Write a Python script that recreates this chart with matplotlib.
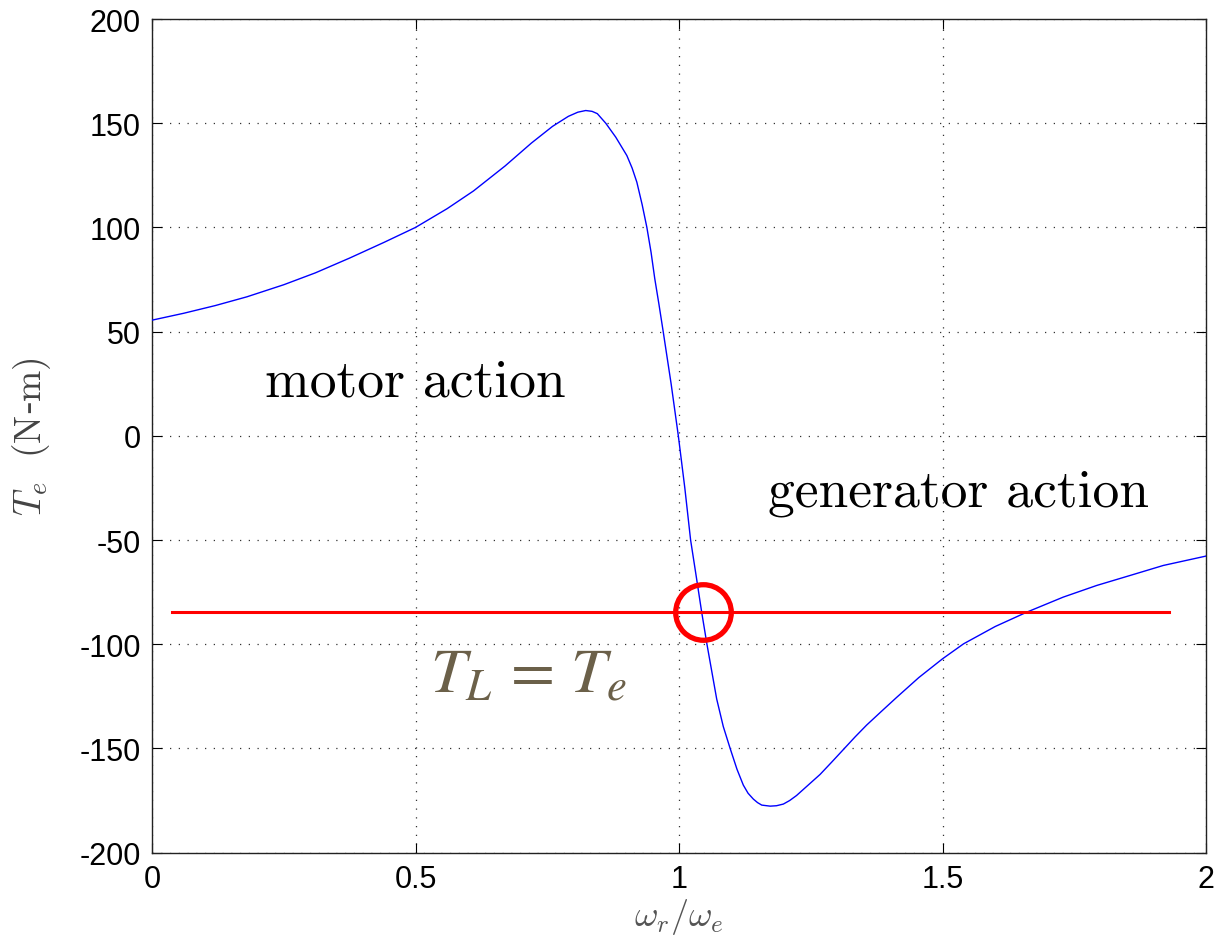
import matplotlib
matplotlib.use("Agg")
import matplotlib.pyplot as plt

# speed ratio omega_r/omega_e and electromagnetic torque (N-m)
speed = [0.0, 0.06, 0.12, 0.18, 0.25, 0.31, 0.375, 0.44, 0.5, 0.56,
         0.61, 0.67, 0.72, 0.76, 0.79, 0.808, 0.823, 0.835, 0.845, 0.861,
         0.88, 0.901, 0.911, 0.92, 0.93, 0.939, 0.947, 0.954, 0.962, 0.970,
         0.985, 0.9987, 1.011, 1.022, 1.033, 1.043, 1.053, 1.0625, 1.0715, 1.084,
         1.097, 1.11, 1.122, 1.131, 1.141, 1.149, 1.157, 1.173, 1.185, 1.198,
         1.21, 1.223, 1.2676, 1.29, 1.312, 1.334, 1.356, 1.385, 1.413, 1.455,
         1.5, 1.54, 1.6, 1.66, 1.729, 1.7926, 1.856, 1.919, 2.0]
torque = [55.5, 58.8, 62.5, 66.7, 72.5, 78.2, 85.3, 92.8, 100.0, 109.0,
          117.5, 129.5, 140.5, 148.5, 153.3, 155.3, 156.1, 155.7, 154.6, 150.0,
          143.3, 134.5, 128.5, 121.7, 111.0, 100.0, 88.0, 75.4, 63.0, 50.0,
          25.0, 0.0, -25.0, -50.0, -68.0, -84.6, -100.0, -113.5, -126.3, -139.5,
          -150.0, -160.0, -167.6, -171.5, -174.3, -176.0, -177.2, -177.7, -177.5, -176.7,
          -175.0, -172.6, -162.5, -156.5, -150.5, -144.5, -138.8, -132.0, -125.5, -116.0,
          -107.0, -99.8, -91.5, -84.6, -77.4, -71.8, -67.0, -62.2, -57.7]

load_torque = -84.6
load_x = [0.038, 1.930]
op_point_x = [1.046]
op_point_y = [-84.6]

xticks = [0, 0.5, 1, 1.5, 2]
xtick_labels = ['0', '0.5', '1', '1.5', '2']
yticks = [-200, -150, -100, -50, 0, 50, 100, 150, 200]
ytick_labels = ['-200', '-150', '-100', '-50', '0', '50', '100', '150', '200']

plt.rcParams['mathtext.fontset'] = 'cm'

fig = plt.figure(figsize=(12.16, 9.45), dpi=100)
ax = fig.add_axes([0.125, 0.0967, 0.8668, 0.8821])

ax.plot(speed, torque, color='#0000FF', lw=1.0, zorder=3)
ax.plot(load_x, [load_torque, load_torque], color='#FF0000', lw=2.2, zorder=4)
ax.plot(op_point_x, op_point_y, marker='o', ms=40, mfc='none', mec='#FF0000',
        mew=3.8, linestyle='none', zorder=5)

ax.set_xlim(0, 2)
ax.set_ylim(-200, 200)
ax.set_xticks(xticks)
ax.set_xticklabels(xtick_labels)
ax.set_yticks(yticks)
ax.set_yticklabels(ytick_labels)
for lab in ax.get_xticklabels() + ax.get_yticklabels():
    lab.set_fontfamily('Liberation Sans')
    lab.set_fontsize(22)
ax.tick_params(direction='in', length=7, width=0.8, top=True, right=True,
               pad=8, colors='black')
ax.grid(True, color='#333333', linestyle=(0, (1, 6)), linewidth=0.9)
for s in ax.spines.values():
    s.set_linewidth(1.0)
    s.set_color('#222222')

ax.set_xlabel(r'$\omega_r/\omega_e$', fontsize=26, color='#555555')
ax.xaxis.set_label_coords(0.5, -0.052)
ax.set_ylabel(r'$T_e\ \ \mathrm{(N}$-$\mathrm{m)}$', fontsize=27, color='#444444')
ax.yaxis.set_label_coords(-0.094, 0.5)

ax.text(0.214, 26, 'motor action', fontsize=38.6, family='cmr10', ha='left', va='center')
ax.text(1.169, -27, 'generator action', fontsize=38.6, family='cmr10', ha='left', va='center')
ax.text(0.527, -114, r'$T_L\,=\,T_e$', fontsize=46, color='#6B6049', ha='left', va='center',
        math_fontfamily='stix')

fig.savefig('out.png', dpi=100)
